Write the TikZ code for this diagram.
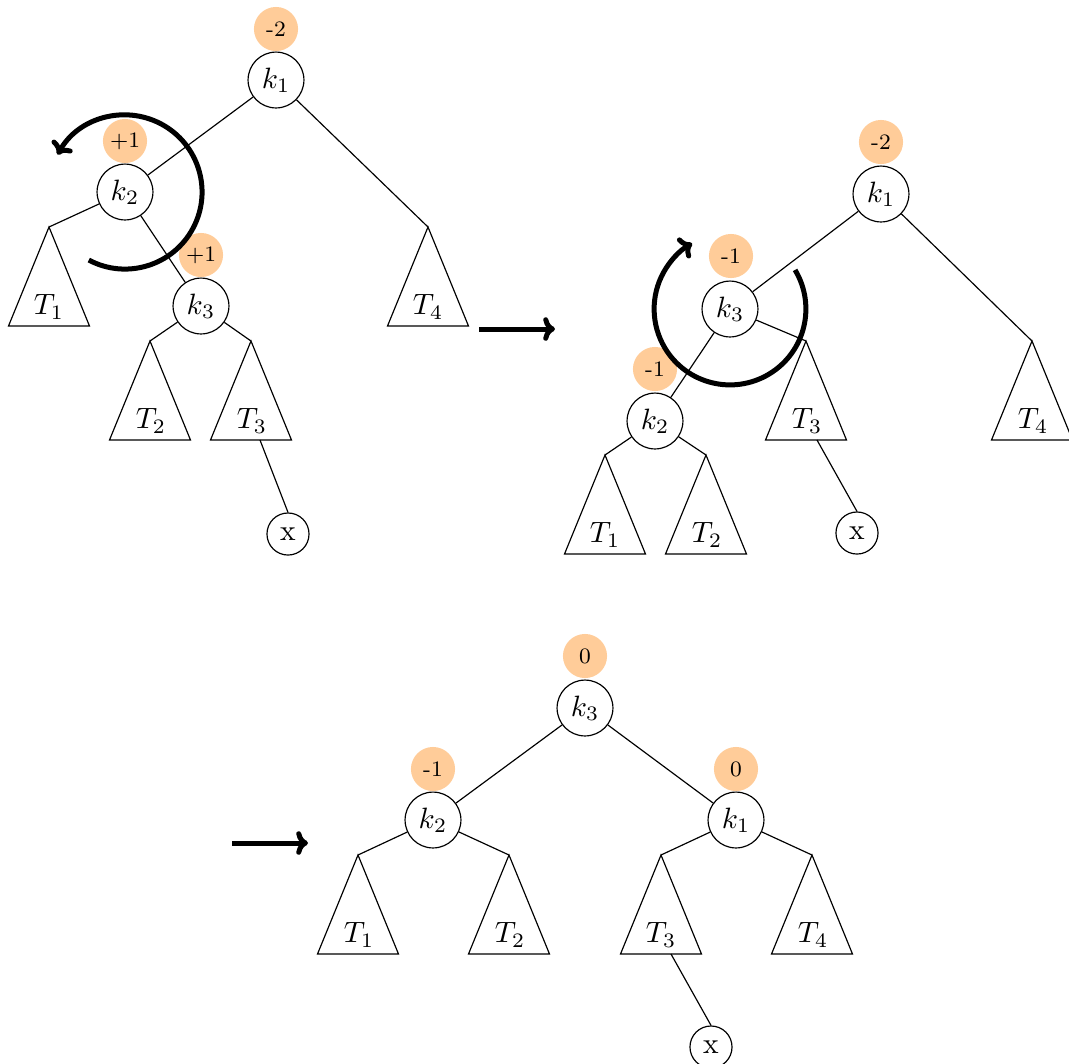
\documentclass[tikz,border=0pt]{standalone}
\usetikzlibrary{arrows.meta}
\definecolor{badge}{RGB}{255,204,153}
\begin{document}
\begin{tikzpicture}[x=0.34pt,y=-0.34pt,
  key/.style={circle,draw,thin,minimum size=19pt,inner sep=0pt},
  leaf/.style={circle,draw,thin,minimum size=14.3pt,inner sep=0pt},
  bf/.style={circle,fill=badge,minimum size=15pt,inner sep=0pt,font=\fontsize{7.5}{9}\selectfont},
  edge/.style={thin},
  tri/.style={thin},
  lbl/.style={inner sep=0pt},
  rot/.style={line width=1.7pt,-{To[length=4pt,width=8pt]}},
  bigarrow/.style={line width=1.7pt,-{To[length=4pt,width=8pt]}}]
\useasboundingbox (0,0) rectangle (1069,1063);

% ---------- Tree 1 ----------
\node[key] (A1) at (276,80) {$k_1$};
\node[bf] (bA1) at (276,29) {-2};
\node[key] (A2) at (125,192) {$k_2$};
\node[bf] (bA2) at (125,141) {+1};
\node[key] (A3) at (201,306) {$k_3$};
\node[bf] (bA3) at (201,255) {+1};
\coordinate (aT1) at (49,227);
\coordinate (aT4) at (428,227);
\coordinate (aT2) at (150,341);
\coordinate (aT3) at (251,341);
\foreach \c in {aT1,aT4,aT2,aT3}
  \draw[tri] (\c) -- ++(-40.5,99) -- ++(81,0) -- cycle;
\node[lbl] (LA1) at (49,307) {$T_1$};
\node[lbl] (LA4) at (428,307) {$T_4$};
\node[lbl] (LA2) at (151,421) {$T_2$};
\node[lbl] (LA3) at (252,421) {$T_3$};
\coordinate (aT3b) at (260,440);
\node[leaf] (ax) at (288,534) {x};
\draw[edge] (A1) -- (A2);
\draw[edge] (A1) -- (aT4);
\draw[edge] (A2) -- (aT1);
\draw[edge] (A2) -- (A3);
\draw[edge] (A3) -- (aT2);
\draw[edge] (A3) -- (aT3);
\draw[edge] (aT3b) -- (ax.north);
\draw[rot] (A2.center) ++(-118:26.2pt) arc[start angle=-118, end angle=151, radius=26.2pt];

% arrow 1
\coordinate (m1s) at (479,329);
\coordinate (m1e) at (555,329);
\draw[bigarrow] (m1s) -- (m1e);

% ---------- Tree 2 ----------
\node[key] (B1) at (881,194) {$k_1$};
\node[bf] (bB1) at (881,142) {-2};
\node[key] (B3) at (730,309) {$k_3$};
\node[bf] (bB3) at (731,256) {-1};
\node[key] (B2) at (655,421) {$k_2$};
\node[bf] (bB2) at (655,369) {-1};
\coordinate (bT3) at (806,341);
\coordinate (bT4) at (1032,341);
\coordinate (bT1) at (605,455);
\coordinate (bT2) at (706,455);
\foreach \c in {bT3,bT4,bT1,bT2}
  \draw[tri] (\c) -- ++(-40.5,99) -- ++(81,0) -- cycle;
\node[lbl] (LB3) at (807,421) {$T_3$};
\node[lbl] (LB4) at (1033,421) {$T_4$};
\node[lbl] (LB1) at (605,535) {$T_1$};
\node[lbl] (LB2) at (707,535) {$T_2$};
\coordinate (bT3b) at (817,440);
\node[leaf] (bx) at (857,533) {x};
\draw[edge] (B1) -- (B3);
\draw[edge] (B1) -- (bT4);
\draw[edge] (B3) -- (B2);
\draw[edge] (B3) -- (bT3);
\draw[edge] (B2) -- (bT1);
\draw[edge] (B2) -- (bT2);
\draw[edge] (bT3b) -- (bx.north);
\draw[rot] (B3.center) ++(31:25.8pt) arc[start angle=31, end angle=-240, radius=25.8pt];

% arrow 2
\coordinate (m2s) at (232,843);
\coordinate (m2e) at (308,843);
\draw[bigarrow] (m2s) -- (m2e);

% ---------- Tree 3 ----------
\node[key] (C3) at (585,708) {$k_3$};
\node[bf] (bC3) at (585,656) {0};
\node[key] (C2) at (433,820) {$k_2$};
\node[bf] (bC2) at (433,769) {-1};
\node[key] (C1) at (736,820) {$k_1$};
\node[bf] (bC1) at (736,769) {0};
\coordinate (cT1) at (358,855);
\coordinate (cT2) at (509,855);
\coordinate (cT3) at (661,855);
\coordinate (cT4) at (812,855);
\foreach \c in {cT1,cT2,cT3,cT4}
  \draw[tri] (\c) -- ++(-40.5,99) -- ++(81,0) -- cycle;
\node[lbl] (LC1) at (359,935) {$T_1$};
\node[lbl] (LC2) at (510,935) {$T_2$};
\node[lbl] (LC3) at (661,935) {$T_3$};
\node[lbl] (LC4) at (813,935) {$T_4$};
\coordinate (cT3b) at (671,954);
\node[leaf] (cx) at (711,1047) {x};
\draw[edge] (C3) -- (C2);
\draw[edge] (C3) -- (C1);
\draw[edge] (C2) -- (cT1);
\draw[edge] (C2) -- (cT2);
\draw[edge] (C1) -- (cT3);
\draw[edge] (C1) -- (cT4);
\draw[edge] (cT3b) -- (cx.north);
\end{tikzpicture}
\end{document}
